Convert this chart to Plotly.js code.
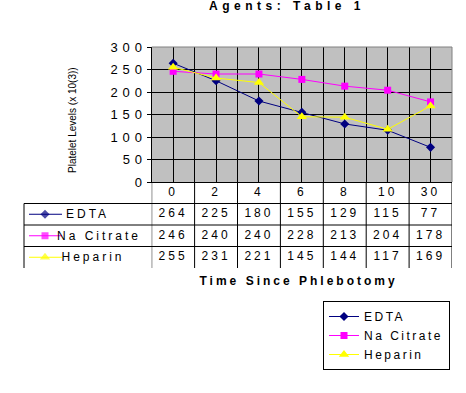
<!DOCTYPE html>
<html><head><meta charset="utf-8">
<script src="https://cdn.plot.ly/plotly-3.0.1.min.js"></script>
<style>
html,body{margin:0;padding:0;background:#fff}
#chart{width:466px;height:393px}
.gtitle{letter-spacing:4.5px}
.ytick text{letter-spacing:5px}
.textpoint text{letter-spacing:3px}
.legendtext{letter-spacing:2.5px}
.annotation[data-index="0"] text{letter-spacing:3px}
.annotation[data-index="2"] text,.annotation[data-index="3"] text,.annotation[data-index="4"] text{letter-spacing:3px}
</style></head><body><div id="chart"></div>
<script>
// ---- data ----
const categories = ['0','2','4','6','8','10','30'];
const seriesNames = ['EDTA','Na Citrate','Heparin'];
const edta = [264,225,180,155,129,115,77];
const naCitrate = [246,240,240,228,213,204,178];
const heparin = [255,231,221,145,144,117,169];
const chartTitle = 'Agents: Table 1';
const xTitle = 'Time Since Phlebotomy';
const yTitle = 'Platelet Levels (x 10(3))';

// ---- styles ----
const FONT = '"Liberation Sans", Arial, sans-serif';
const seriesValues = [edta, naCitrate, heparin];
const colors = ['#000080','#FF00FF','#FFFF00'];
const symbols = ['diamond','square','triangle-up'];
const msize = [7,7,9];

// geometry (pixels)
const W=466,H=393, L=24, R=452, T=47, B=268, PL=151.7, PB=182;
const pw = R-L, ph = B-T;
const xDom = [(PL-L)/pw, 1];
const ySplit = (B-PB)/ph;
const idx = categories.map((c,i)=>i);

const traces = [];
seriesValues.forEach((vals,k)=>{
  traces.push({type:'scatter', mode:'lines+markers', name:seriesNames[k],
    x:idx, y:vals, xaxis:'x', yaxis:'y',
    line:{color:colors[k], width:1},
    marker:{color:colors[k], symbol:symbols[k], size:msize[k], line:{width:0}},
    cliponaxis:false, hoverinfo:'skip'});
});
// table header: categories
traces.push({type:'scatter', mode:'text', x:idx, y:idx.map(()=>0.5), text:categories,
  xaxis:'x2', yaxis:'y2', showlegend:false, hoverinfo:'skip',
  textfont:{family:FONT, size:12, color:'#000'}});
// table values
seriesValues.forEach((vals,k)=>{
  traces.push({type:'scatter', mode:'text', x:idx, y:idx.map(()=>k+1.5), text:vals.map(String),
    xaxis:'x2', yaxis:'y2', showlegend:false, hoverinfo:'skip',
    textfont:{family:FONT, size:12, color:'#000'}});
  // key sample line + marker
  traces.push({type:'scatter', mode:'lines+markers', x:[5,21,38], y:[k+1.5,k+1.5,k+1.5],
    xaxis:'x3', yaxis:'y2', showlegend:false, hoverinfo:'skip',
    line:{color:colors[k], width:1},
    marker:{color:colors[k], symbol:symbols[k], size:[0,msize[k],0], line:{width:0}}});
});

const shapes = [
  {type:'rect', xref:'x domain', yref:'y domain', x0:0,x1:1,y0:0,y1:1, fillcolor:'#C0C0C0', line:{width:0}, layer:'below'},
  {type:'line', xref:'x domain', yref:'y domain', x0:0,x1:1,y0:1,y1:1, line:{color:'#808080', width:1}, layer:'above'},
  {type:'line', xref:'x domain', yref:'y domain', x0:1,x1:1,y0:0,y1:1, line:{color:'#808080', width:1}, layer:'above'},
  {type:'line', xref:'paper', yref:'y2', x0:0,x1:0,y0:1,y1:4, line:{color:'#000', width:1}}
];
for (let r=1;r<=seriesNames.length;r++){
  shapes.push({type:'line', xref:'paper', yref:'y2', x0:0,x1:1,y0:r,y1:r, line:{color:'#000', width:1}});
}
for (let i=0;i<=categories.length;i++){
  shapes.push({type:'line', xref:'x2', yref:'y2', x0:i-0.5,x1:i-0.5,y0:0,y1:seriesNames.length+1, line:{color:'#000', width:1}});
}

const annotations = [
  {text:xTitle, xref:'paper', yref:'paper', x:(298-L)/pw, y:(B-281)/ph, xanchor:'center', yanchor:'middle',
   showarrow:false, font:{family:FONT, size:12, weight:'bold', color:'#000'}},
  {text:yTitle, xref:'paper', yref:'paper', x:(72-L)/pw, y:(B-120)/ph, xanchor:'center', yanchor:'middle',
   textangle:-90, showarrow:false, font:{family:FONT, size:10, color:'#000'}}
];
seriesNames.forEach((n,k)=>{
  annotations.push({text:n, xref:'x3', yref:'y2', x:46, y:k+1.5, xanchor:'left', yanchor:'middle',
    showarrow:false, font:{family:FONT, size:12, color:'#000'}});
});

const layout = {
  width:W, height:H, margin:{l:L, r:W-R, t:T, b:H-B},
  paper_bgcolor:'#fff', plot_bgcolor:'rgba(0,0,0,0)',
  font:{family:FONT, color:'#000'},
  title:{text:chartTitle, xref:'container', yref:'container', x:287/W, y:1-5.5/H, xanchor:'center', yanchor:'middle',
    font:{family:FONT, size:12, weight:'bold', color:'#000'}},
  xaxis:{domain:xDom, range:[-0.5, categories.length-0.5], tick0:-0.5, dtick:0.5, showticklabels:false, ticks:'',
    showgrid:true, gridcolor:'#000', gridwidth:1, showline:true, linecolor:'#000', linewidth:1, zeroline:false, anchor:'y', fixedrange:true},
  yaxis:{domain:[ySplit,1], range:[0,300], dtick:50, showgrid:true, gridcolor:'#000', gridwidth:1,
    showline:true, linecolor:'#000', linewidth:1, ticks:'outside', ticklen:4, tickcolor:'#000', tickwidth:1,
    tickfont:{family:FONT, size:13, color:'#000'}, zeroline:false, anchor:'x', fixedrange:true, ticklabelstandoff:-3},
  xaxis2:{domain:xDom, range:[-0.5, categories.length-0.5], visible:false, anchor:'y2', fixedrange:true},
  yaxis2:{domain:[0,ySplit], range:[seriesNames.length+1, 0], visible:false, anchor:'x2', fixedrange:true},
  xaxis3:{domain:[0, xDom[0]], range:[0, PL-L], visible:false, anchor:'y2', fixedrange:true},
  showlegend:true,
  legend:{x:(323-L)/pw, xanchor:'left', y:(B-301)/ph, yanchor:'top', bordercolor:'#000', borderwidth:1, bgcolor:'#fff',
    font:{family:FONT, size:12, color:'#000'}, traceorder:'normal', itemwidth:30},
  shapes:shapes, annotations:annotations
};
Plotly.newPlot('chart', traces, layout, {staticPlot:true, displayModeBar:false});
</script></body></html>
